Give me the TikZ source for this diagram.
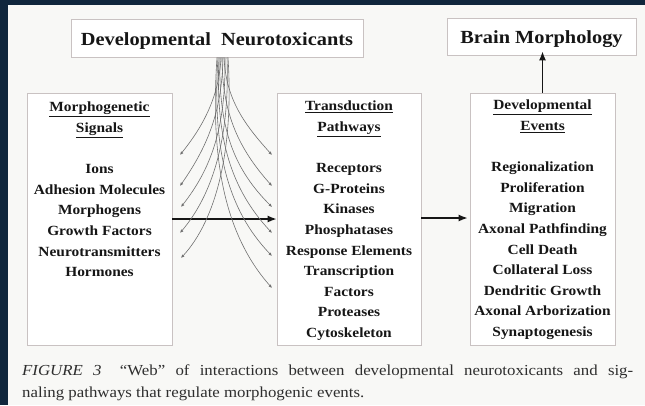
\documentclass[tikz,border=0pt]{standalone}
\usepackage{fontspec}
\setmainfont{Liberation Serif}[FakeStretch=1.1]
\usetikzlibrary{arrows.meta}
\definecolor{navy}{HTML}{10263C}
\definecolor{paper}{HTML}{F8F8F6}
\definecolor{boxline}{HTML}{C9C2C2}
\definecolor{ink}{HTML}{161616}
\definecolor{webline}{HTML}{707070}
\definecolor{captink}{HTML}{2E2E2E}
\tikzset{
  box/.style={draw=boxline, line width=0.8pt, fill=white, inner sep=0pt},
  titletext/.style={font=\fontsize{18.5}{22}\selectfont\bfseries, text=ink},
  listtext/.style={font=\fontsize{14}{20.6}\selectfont\bfseries, text=ink, align=center, inner sep=0pt, anchor=north},
  web/.style={draw=webline, line width=0.6pt, -{Latex[length=3.5pt,width=3pt]}},
  mainarrow/.style={draw=ink, line width=1.4pt, -{Latex[length=9pt,width=7pt]}},
}
\begin{document}
\begin{tikzpicture}[x=1pt,y=-1pt]
\useasboundingbox (0,0) rectangle (645,405);
\fill[navy] (0,0) rectangle (645,405);
\fill[paper] (8,5) rectangle (645,405);
% top boxes
\node[box, minimum width=292pt, minimum height=38pt] (dn) at (217,38) {};
\node[titletext, anchor=base] (dnt) at (217,45) {Developmental\hspace{0.55em}Neurotoxicants};
\node[box, minimum width=189pt, minimum height=37pt] (bm) at (541.5,36.5) {};
\node[titletext, anchor=base] (bmt) at (541.5,43) {Brain Morphology};
% main boxes
\node[box, minimum width=145pt, minimum height=252pt] (ms) at (99.5,219) {};
\node[box, minimum width=144pt, minimum height=252pt] (tp) at (349,219) {};
\node[box, minimum width=145pt, minimum height=252pt] (de) at (542.5,219) {};
\node[listtext] (mst) at (99.5,102) {\underline{Morphogenetic}\\ \underline{Signals}\\[20.6pt]
Ions\\ Adhesion Molecules\\ Morphogens\\ Growth Factors\\ Neurotransmitters\\ Hormones};
\node[listtext] (tpt) at (349,101) {\underline{Transduction}\\ \underline{Pathways}\\[20.6pt]
Receptors\\ G-Proteins\\ Kinases\\ Phosphatases\\ Response Elements\\ Transcription\\ Factors\\ Proteases\\ Cytoskeleton};
\node[listtext] (det) at (542.5,100) {\underline{Developmental}\\ \underline{Events}\\[20.6pt]
Regionalization\\ Proliferation\\ Migration\\ Axonal Pathfinding\\ Cell Death\\ Collateral Loss\\ Dendritic Growth\\ Axonal Arborization\\ Synaptogenesis};
% arrows between boxes
\draw[mainarrow] (ms.east |- 0,219) -- (tp.west |- 0,219);
\draw[mainarrow] (tp.east |- 0,218) -- ([xshift=-2pt]de.west |- 0,218);
\draw[mainarrow] (de.north) -- ([yshift=4pt]bm.south -| de.north);
% web of interactions
\coordinate (l1) at (180,155);
\coordinate (l2) at (180,186);
\coordinate (l3) at (181,207);
\coordinate (l4) at (180,233);
\coordinate (l5) at (181,258);
\coordinate (r1) at (272,155);
\coordinate (r2) at (272,186);
\coordinate (r3) at (272,207);
\coordinate (r4) at (272,233);
\coordinate (r5) at (272,256);
\coordinate (r6) at (272,288);
\draw[web] ([xshift=4pt]dn.south) .. controls (219,100) and (200,130) .. (l1);
\draw[web] ([xshift=6pt]dn.south) .. controls (222,115) and (205,150) .. (l2);
\draw[web] ([xshift=8pt]dn.south) .. controls (226,130) and (210,170) .. (l3);
\draw[web] ([xshift=10pt]dn.south) .. controls (230,140) and (212,195) .. (l4);
\draw[web] ([xshift=11pt]dn.south) .. controls (234,150) and (216,220) .. (l5);
\draw[web] ([xshift=7pt]dn.south) .. controls (226,100) and (245,125) .. (r1);
\draw[web] ([xshift=5pt]dn.south) .. controls (222,115) and (240,150) .. (r2);
\draw[web] ([xshift=3pt]dn.south) .. controls (218,130) and (235,170) .. (r3);
\draw[web] ([xshift=2pt]dn.south) .. controls (215,140) and (232,190) .. (r4);
\draw[web] ([xshift=1pt]dn.south) .. controls (212,150) and (228,210) .. (r5);
\draw[web] (dn.south) .. controls (210,160) and (225,235) .. (r6);
% caption
\node[anchor=base west, inner sep=0pt, align=left, text=captink, font=\fontsize{15.3}{22}\selectfont] (cap) at (22,397)
{\makebox[611pt][s]{\textit{FIGURE 3}\hspace{1.2em}“Web” of interactions between developmental neurotoxicants and sig-}\\
naling pathways that regulate morphogenic events.};
\end{tikzpicture}
\end{document}
